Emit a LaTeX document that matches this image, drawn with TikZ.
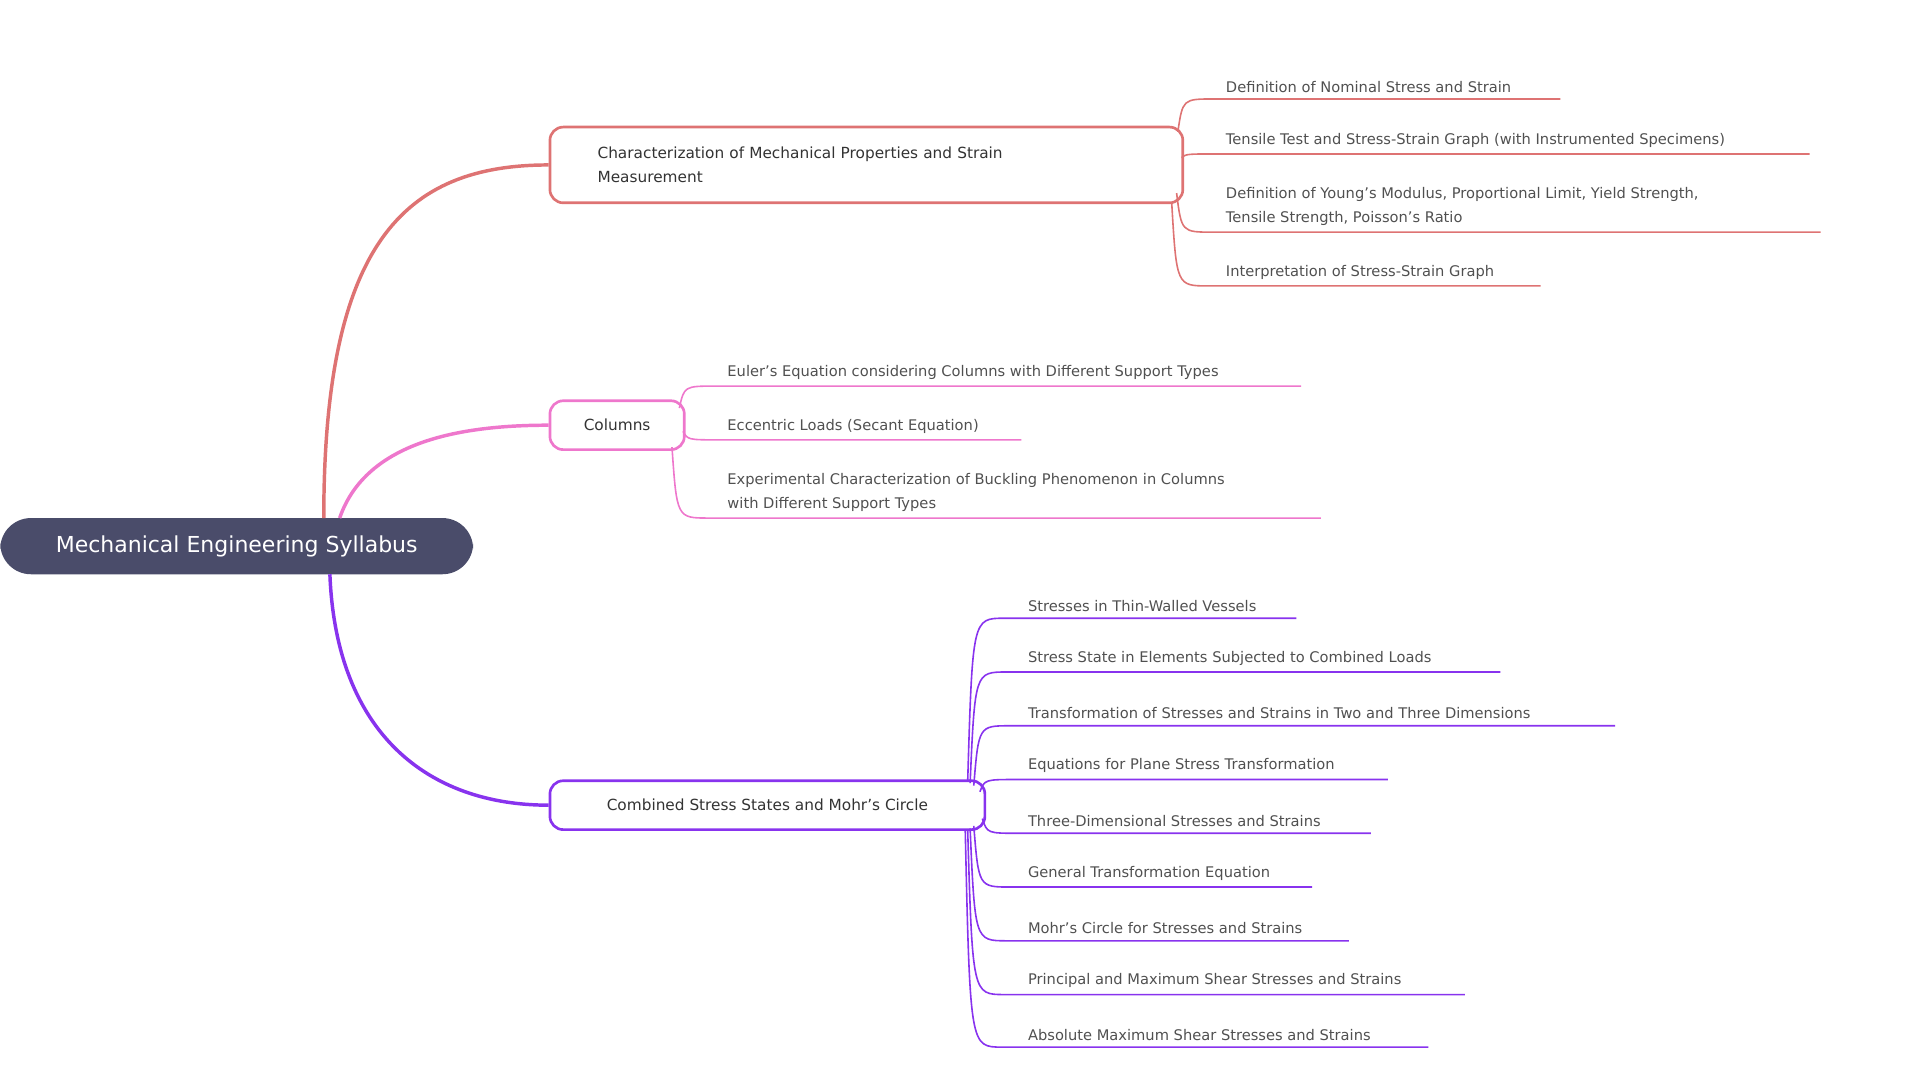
\documentclass[tikz,border=0pt]{standalone}
\usepackage{fontspec}
\setmainfont{DejaVu Sans}
\definecolor{cr}{HTML}{DE7373}
\definecolor{cp}{HTML}{EE77CC}
\definecolor{cv}{HTML}{8833EE}
\definecolor{root}{HTML}{4A4C6A}
\definecolor{tx}{HTML}{505050}
\newcommand\lf[7]{% name, color, origin, y, xstart, xend, text
  \coordinate (#1s) at (#5,#4);
  \coordinate (#1e) at (#6,#4);
  \node[leaf, anchor=south west] (#1) at (#5+8,#4-3) {#7};
  \draw[#2, line width=1.2pt] (#3) .. controls ($(#3|-#1s)+(4,0)$) .. ($(#3|-#1s)+(30,0)$) -- (#1e);
}
\usetikzlibrary{calc}
\begin{document}
\begin{tikzpicture}[x=0.9165pt,y=-0.9165pt,
  leaf/.style={font=\fontsize{11}{18.3}\selectfont, text=tx, align=left, inner sep=2pt},
  br/.style={draw, line width=2pt, rounded corners=10pt, font=\fontsize{11.5}{18.3}\selectfont, text=black!80, align=left, inner xsep=12pt, anchor=west},
  conn/.style={line width=2.6pt}]
\useasboundingbox (0,0) rectangle (1560,889.6);
\node[fill=root, text=white, rounded corners=23pt, minimum width=387*0.9165pt, minimum height=46*0.9165pt, font=\fontsize{16.5}{20}\selectfont, anchor=west] (R) at (0,447) {Mechanical Engineering Syllabus};
\node[br, draw=cr, minimum width=518*0.9165pt, minimum height=62*0.9165pt, text width=440*0.9165pt] (A) at (449,135) {Characterization of Mechanical Properties and Strain\\Measurement};
\node[br, draw=cp, minimum width=110*0.9165pt, minimum height=40*0.9165pt] (B) at (449,348) {Columns};
\node[br, draw=cv, minimum width=356*0.9165pt, minimum height=40*0.9165pt] (C) at (449,659) {Combined Stress States and Mohr's Circle};
\coordinate (r1) at (265,424); \coordinate (r2) at (278,424); \coordinate (r3) at (270,470);
\draw[conn, cr] (r1) .. controls (265,200) and (330,135) .. (A.west);
\draw[conn, cp] (r2) .. controls (300,360) and (380,348) .. (B.west);
\draw[conn, cv] (r3) .. controls (275,600) and (350,659) .. (C.west);
% branch A
\coordinate (a1) at (964,108); \coordinate (a2) at (967,129);
\coordinate (a3) at (963,158); \coordinate (a4) at (959,166);
\lf{A1}{cr}{a1}{81}{993}{1277}{Definition of Nominal Stress and Strain}
\lf{A2}{cr}{a2}{126}{993}{1481}{Tensile Test and Stress-Strain Graph (with Instrumented Specimens)}
\lf{A3}{cr}{a3}{190}{993}{1490}{Definition of Young's Modulus, Proportional Limit, Yield Strength,\\Tensile Strength, Poisson's Ratio}
\lf{A4}{cr}{a4}{234}{993}{1261}{Interpretation of Stress-Strain Graph}
% branch B
\coordinate (b1) at (556,334); \coordinate (b2) at (559,353); \coordinate (b3) at (550,366);
\lf{B1}{cp}{b1}{316}{585}{1065}{Euler's Equation considering Columns with Different Support Types}
\lf{B2}{cp}{b2}{360}{585}{836}{Eccentric Loads (Secant Equation)}
\lf{B3}{cp}{b3}{424}{585}{1081}{Experimental Characterization of Buckling Phenomenon in Columns\\with Different Support Types}
% branch C
\coordinate (c1) at (792,640); \coordinate (c2) at (794,641); \coordinate (c3) at (797,643);
\coordinate (c4) at (802,648); \coordinate (c5) at (804,670); \coordinate (c6) at (797,676);
\coordinate (c7) at (794,678); \coordinate (c8) at (792,679); \coordinate (c9) at (790,679);
\lf{C1}{cv}{c1}{506}{831}{1061}{Stresses in Thin-Walled Vessels}
\lf{C2}{cv}{c2}{550}{831}{1228}{Stress State in Elements Subjected to Combined Loads}
\lf{C3}{cv}{c3}{594}{831}{1322}{Transformation of Stresses and Strains in Two and Three Dimensions}
\lf{C4}{cv}{c4}{638}{831}{1136}{Equations for Plane Stress Transformation}
\lf{C5}{cv}{c5}{682}{831}{1122}{Three-Dimensional Stresses and Strains}
\lf{C6}{cv}{c6}{726}{831}{1074}{General Transformation Equation}
\lf{C7}{cv}{c7}{770}{831}{1104}{Mohr's Circle for Stresses and Strains}
\lf{C8}{cv}{c8}{814}{831}{1199}{Principal and Maximum Shear Stresses and Strains}
\lf{C9}{cv}{c9}{857}{831}{1169}{Absolute Maximum Shear Stresses and Strains}
\end{tikzpicture}
\end{document}
